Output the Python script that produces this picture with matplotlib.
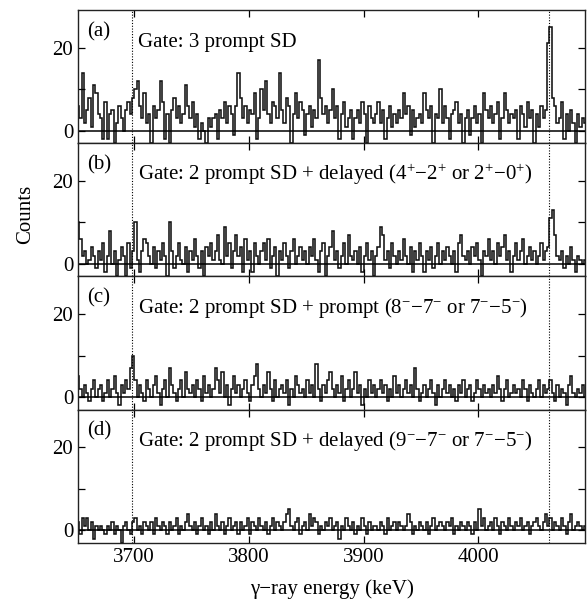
import numpy as np
import matplotlib
matplotlib.use('Agg')
import matplotlib.pyplot as plt

plt.rcParams['font.family'] = ['Liberation Serif', 'DejaVu Serif']
plt.rcParams['mathtext.fontset'] = 'custom'
plt.rcParams['mathtext.rm'] = 'Liberation Serif'
plt.rcParams['mathtext.it'] = 'Liberation Serif:italic'
plt.rcParams['font.size'] = 15

# histogram binning (keV)
bin_start = 3650
bin_width = 2

# counts per 2 keV bin (rows of 10 bins = 20 keV)
counts_a = [
    6, 3, 14, 2, 5, 8, 1, 11, 9, 4,
    3, -2, 7, -2, 4, 5, -3, 2, 6, 3,
    0, 5, 7, 4, 8, 10, 12, 6, 3, 9,
    2, 4, -3, 6, 3, 5, 12, 7, -2, 4,
    -3, 5, 8, 3, 6, 2, 4, 11, 6, 3,
    7, 1, 4, -2, 2, 0, -3, 3, 1, 3,
    4, -2, 5, 3, 7, 2, 6, 4, -1, 6,
    14, 8, 3, 6, 2, 5, 4, 9, -2, 3,
    10, 5, 12, 4, 2, 7, 6, 3, 14, 5,
    2, 8, 6, -3, 4, 9, 3, 7, 5, -1,
    4, 6, 1, 5, 3, 17, 8, 4, 6, 2,
    5, 10, 3, 6, -2, 4, 7, 1, 3, 5,
    -2, 3, 5, 2, 7, 4, -3, 6, 3, 2,
    4, 7, 2, 5, -2, 3, 6, 1, 4, 2,
    5, 3, 9, 4, 6, -1, 5, 1, 3, 4,
    2, 9, 5, 3, 6, -3, 4, 3, 10, 2,
    6, 3, -2, 4, 5, 7, 2, 4, -3, 3,
    5, -1, 3, 6, 2, 4, -3, 9, 5, 3,
    6, 2, 4, 7, -2, 3, 9, 5, 2, 4,
    3, 5, -2, 6, 4, 1, 7, 3, 5, -3,
    4, 1, 6, 3, 5, 21, 25, 8, 6, 2,
    3, 7, -2, 4, 0, 5, 2, -3, 4, 1,
    3, 2,
]
counts_b = [
    10, 6, 2, 3, 0, 1, 4, 2, -1, 3,
    1, 5, -2, 2, 8, 0, 3, -3, 1, 4,
    2, -3, 5, -1, 3, 10, 1, -2, 3, 6,
    5, 2, 0, 4, -1, 3, 1, 5, 2, -3,
    10, 3, -1, 2, 5, 1, 0, 4, -2, 3,
    1, 6, 2, -1, 3, -3, 4, 2, 5, 1,
    3, 7, 1, 0, 9, 2, 5, -1, 3, 7,
    2, 4, -2, 6, 1, 3, -2, 5, 2, 0,
    3, 5, 1, 6, -1, 2, 4, -3, 3, 1,
    5, 2, -1, 3, 6, 0, 2, 4, 1, 3,
    0, 4, 2, 6, 1, -2, 3, 5, -3, 2,
    4, 8, 1, 3, -1, 2, 5, 0, 7, 2,
    1, 3, 0, 4, -2, 2, 5, 1, 3, -3,
    2, 4, 9, 7, 1, 3, -1, 5, 2, 0,
    3, 1, 6, 2, 0, 4, -2, 3, 1, 5,
    2, -2, 3, 1, 4, -1, 2, 5, 0, 3,
    1, 4, 2, 0, 3, -2, 5, 7, 2, 1,
    3, 0, 4, 2, 5, 1, -3, 3, 2, 6,
    1, 3, 0, 5, 2, 4, 7, 1, 3, -2,
    2, 5, 1, 3, 6, 0, 2, 4, 1, 3,
    0, 2, 5, 1, 3, 4, 11, 13, 7, 2,
    1, 3, -1, 2, 0, 4, 1, -2, 2, 1,
    0, 1,
]
counts_c = [
    5, 2, 0, 3, 1, -1, 2, 4, 0, 2,
    3, -1, 1, 4, 0, 2, 5, 1, -2, 3,
    1, 4, 2, 7, 10, 4, 0, 3, 1, -1,
    4, 2, 0, 3, 5, 1, -2, 2, 4, 0,
    7, 3, 1, -1, 2, 4, 0, 6, 2, 1,
    3, 0, 4, 2, -1, 5, 1, 3, 0, 2,
    7, 4, 1, 6, 0, 3, -2, 2, 5, 1,
    3, 0, 2, 4, 1, -1, 3, 5, 8, 2,
    0, 3, 1, 6, 2, -1, 4, 0, 2, 3,
    1, 4, -2, 2, 0, 5, 3, 1, 2, 0,
    4, 1, 3, 0, 8, 2, -1, 3, 1, 4,
    6, 2, 0, 3, 1, 5, -1, 2, 4, 0,
    2, 6, 1, 3, -2, 2, 0, 4, 1, 3,
    0, 2, 4, 1, 3, -1, 2, 0, 5, 1,
    3, 0, 2, 4, 1, 3, 0, 7, 2, -1,
    1, 3, 0, 2, 4, 1, -2, 3, 0, 2,
    4, 1, 3, 0, 2, -1, 3, 1, 4, 0,
    2, 3, -1, 1, 4, 2, 0, 3, 1, 2,
    0, 3, 1, 5, 2, -1, 2, 4, 0, 1,
    3, 1, 2, 0, 4, 2, -1, 3, 1, 0,
    2, 4, 0, 3, 1, 2, 4, 1, -1, 3,
    0, 2, 1, -2, 3, 5, 1, 0, 2, 1,
    3, 0,
]
counts_d = [
    2, -1, 3, 1, 3, 0, 2, -2, 1, 0,
    1, 0, -1, 1, 0, 2, -1, 1, 0, -3,
    1, 2, 0, -1, 2, 3, 0, 1, -1, 2,
    1, 0, 2, -1, 3, 1, 0, 2, 1, -1,
    2, 0, 1, 3, -1, 1, 0, 2, 4, 1,
    0, 2, -1, 1, 3, 0, 1, -1, 2, 0,
    4, 1, 0, 2, -1, 1, 3, 0, 1, 2,
    -1, 2, 0, 1, 3, -1, 2, 1, 0, 3,
    1, 0, 2, -1, 1, 3, 0, 2, 1, 0,
    2, 4, 5, 1, 0, 2, 3, -1, 1, 2,
    0, 4, 1, 3, 2, -1, 1, 0, 2, 1,
    3, 0, 1, 2, -2, 1, 0, 3, 1, 0,
    2, -1, 1, 0, 3, 1, -1, 2, 0, 1,
    1, 0, 2, 1, -1, 3, 0, 1, 2, 0,
    2, 1, 0, 1, 4, 2, -1, 1, 0, 2,
    1, 0, 2, -1, 1, 3, 0, 1, 2, 1,
    0, 2, 1, 3, -1, 1, 0, 2, 1, 0,
    2, 1, -1, 2, 0, 5, 1, 3, 0, 1,
    2, 0, 3, 1, -1, 2, 1, 0, 3, 1,
    0, 2, 1, 3, 0, 1, 2, -1, 1, 2,
    3, 1, 0, 2, 4, 1, 3, 0, 2, 1,
    0, 3, 1, -1, 2, 4, 0, 1, 2, 1,
    0, 1,
]

panel_tags = ['(a)', '(b)', '(c)', '(d)']
gate_labels = [
    'Gate: 3 prompt SD',
    'Gate: 2 prompt SD + delayed (4$^{+}$\u22122$^{+}$ or 2$^{+}$\u22120$^{+}$)',
    'Gate: 2 prompt SD + prompt (8$^{-}$\u22127$^{-}$ or 7$^{-}$\u22125$^{-}$)',
    'Gate: 2 prompt SD + delayed (9$^{-}$\u22127$^{-}$ or 7$^{-}$\u22125$^{-}$)',
]
marker_lines = [3698, 4062]  # dotted reference energies (keV)
x_ticks = [3700, 3800, 3900, 4000]
y_ticks = [0, 10, 20]
y_ticklabels = ['0', '', '20']

fig = plt.figure(figsize=(5.87, 6.01), dpi=100)
axes = fig.subplots(4, 1, sharex=True)
fig.subplots_adjust(left=0.133, right=0.9966, top=0.983, bottom=0.097, hspace=0)

all_counts = [counts_a, counts_b, counts_c, counts_d]
for ax, counts, tag, gate in zip(axes, all_counts, panel_tags, gate_labels):
    counts = np.array(counts)
    edges = bin_start + bin_width * np.arange(len(counts) + 1)
    ax.stairs(counts, edges, color='#111111', lw=1.15, baseline=None)
    ax.axhline(0, color='k', lw=1.1)
    for e in marker_lines:
        ax.axvline(e, color='k', ls=(0, (1, 1.5)), lw=0.8)

    ax.set_xlim(3651, 4093)
    ax.set_ylim(-3, 29)
    ax.set_yticks(y_ticks)
    ax.set_yticklabels(y_ticklabels)
    ax.set_xticks(x_ticks)
    ax.tick_params(direction='in', top=True, right=True, length=5, width=0.9, labelsize=15)
    for sp in ax.spines.values():
        sp.set_linewidth(1.0)
        sp.set_color('#222222')

    ax.text(0.018, 0.805, tag, transform=ax.transAxes, ha='left', va='baseline', fontsize=15)
    ax.text(0.118, 0.725, gate, transform=ax.transAxes, ha='left', va='baseline', fontsize=15)

axes[-1].set_xlabel('\u03b3\u2212ray energy (keV)', fontsize=15, labelpad=9)
fig.text(0.043, 1 - 214 / 601, 'Counts', rotation=90, ha='center', va='center', fontsize=15)

fig.savefig('out.png', dpi=100)
